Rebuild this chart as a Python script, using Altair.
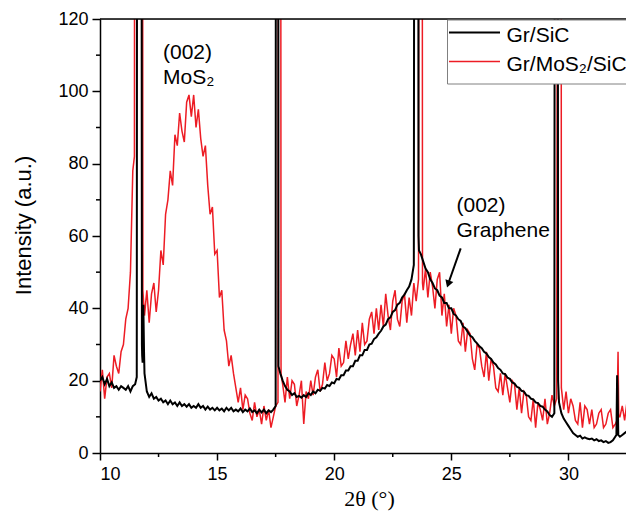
import altair as alt
import pandas as pd

# ---------------- data ----------------
X_START = 10.0
X_STEP = 0.1

# Gr/SiC intensity sampled every 0.1 deg from 10.0 to 32.8 (400 = off-scale peak)
gr_sic_y = [
    20, 21, 19, 20.5, 18.5, 19.5, 18, 18.5, 17.5, 18.5,
    18, 17.5, 18.5, 17, 18.5, 19, 400, 400, 27, 22,
    17, 15.5, 16.5, 15, 15.5, 14.5, 15, 14, 14.5, 13.5,
    14.5, 13.5, 14, 13, 14, 13, 13.5, 12.8, 13.5, 12.5,
    13, 12.5, 13.5, 12.5, 13, 12, 12.8, 12, 12.5, 11.8,
    12.5, 11.8, 12.3, 11.5, 12.5, 11.8, 12.5, 11.5, 12, 11.5,
    12.3, 11.3, 12, 11.5, 12.3, 11.3, 11.8, 11, 12, 11.2,
    12, 11, 11.8, 11.3, 12, 13, 400, 22, 20, 18.5,
    17.5, 17, 16, 16.5, 15.5, 15.8, 15.3, 16, 15.5, 16.5,
    16, 17, 16.5, 17.5, 17.2, 18, 17.8, 18.8, 18.5, 19.5,
    19.3, 20.5, 20.3, 21.5, 21.5, 22.8, 22.8, 24, 24, 25.5,
    25.5, 27, 27, 28.5, 28.5, 30, 30.2, 31.5, 32, 33,
    33.8, 35, 35.5, 37, 37.5, 39, 39.5, 41, 41.5, 43,
    43.8, 45, 46, 48, 52, 400, 60, 55, 53, 51,
    50, 48, 47, 45.5, 45, 43.5, 43, 41.5, 41.5, 40,
    40, 38.5, 38, 37, 36.5, 35, 34.5, 33.5, 32.5, 32,
    31, 30.3, 29.5, 29, 28, 27.5, 26.5, 26, 25, 24.5,
    23.5, 23, 22, 21.8, 20.8, 20.5, 19.5, 19.2, 18.3, 18,
    17.2, 17, 16, 15.8, 15, 14.8, 14, 13.8, 13, 12.8,
    12, 11.5, 10.5, 10, 11, 400, 14, 11, 9.5, 8.5,
    7.5, 6.5, 5.5, 5, 4.5, 4.8, 4, 4.3, 4, 3.8,
    4, 3.5, 3.8, 3.3, 3.5, 3, 3.3, 2.8, 3, 3.5,
    4.5, 18, 4.5, 5, 5.5, 6, 6.5, 6.8, 7,
]
# extra points around the sharp peaks
gr_sic_peak_x = [11.57, 11.75, 11.79, 11.82, 11.85, 11.88,
                 17.52, 17.58, 17.62,
                 23.45, 23.58, 23.62,
                 29.44, 29.53, 29.56,
                 32.05, 32.08, 32.13]
gr_sic_peak_y = [21, 400, 30, 25, 41, 28,
                 400, 400, 24,
                 400, 400, 56,
                 400, 400, 20,
                 5, 21.5, 5]

# Gr/MoS2/SiC intensity sampled every 0.1 deg from 10.0 to 32.8
gr_mos2_y = [
    17, 23, 15, 21, 22, 18, 27, 24, 22, 28,
    30, 37, 40, 50, 78, 400, 400, 400, 400, 38,
    45, 36, 44, 47, 39, 45, 56, 52, 66, 70,
    78, 74, 88, 85, 94, 89, 86, 97, 99, 93,
    99, 90, 95, 87, 82, 85, 74, 66, 68, 55,
    56, 43, 45, 34, 31, 24, 27, 22, 18, 14,
    18, 12, 16, 15, 11, 9, 14, 10, 12, 8,
    13, 9, 12, 7, 10, 13, 14, 400, 19, 14,
    21, 15, 20, 19, 13, 16, 20, 8, 17, 15,
    20, 16, 21, 23, 17, 19, 25, 20, 22, 27,
    26, 21, 29, 24, 25, 31, 26, 30, 33, 27,
    34, 28, 36, 30, 31, 37, 39, 33, 40, 34,
    41, 35, 44, 38, 34, 42, 45, 37, 35, 42,
    44, 36, 43, 38, 47, 42, 48, 400, 45, 51,
    43, 50, 46, 40, 48, 50, 38, 44, 35, 41,
    33, 40, 38, 31, 30, 36, 28, 34, 33, 26,
    23, 30, 29, 24, 21, 28, 20, 26, 24, 18,
    17, 22, 16, 22, 18, 14, 20, 19, 12, 18,
    11, 17, 16, 10, 9, 15, 7, 14, 12, 9,
    15, 8, 11, 16, 13, 15, 400, 18, 12, 17,
    11, 15, 13, 9, 8, 14, 7, 13, 12, 8,
    12, 7, 8, 11, 12, 7, 8, 11, 12, 7,
    8, 20, 10, 13, 9, 14, 11, 15, 12,
]
gr_mos2_peak_x = [11.47, 11.83, 17.64, 17.73, 23.63, 23.74, 23.77,
                  29.58, 29.68, 32.08, 32.12, 32.15]
gr_mos2_peak_y = [82, 45, 400, 22, 400, 400, 47,
                  400, 400, 9, 28, 10]

x_ticks = [10, 15, 20, 25, 30]
x_minor = [12.5, 17.5, 22.5, 27.5, 32.5]
y_ticks = [0, 20, 40, 60, 80, 100, 120]
y_minor = [10, 30, 50, 70, 90, 110]

series_names = ["Gr/SiC", "Gr/MoS\u2082/SiC"]
series_colors = ["#000000", "#ed1c24"]

W, H = 526, 434
X_MAX = 10 + W / 23.42
FONT = "Liberation Sans"


def build(grid_y, px, py, name):
    xs = [round(X_START + i * X_STEP, 2) for i in range(len(grid_y))]
    df = pd.DataFrame({"x": xs + px, "y": grid_y + py})
    df = df.sort_values("x").reset_index(drop=True)
    df["series"] = name
    return df


df_black = build(gr_sic_y, gr_sic_peak_x, gr_sic_peak_y, series_names[0])
df_red = build(gr_mos2_y, gr_mos2_peak_x, gr_mos2_peak_y, series_names[1])

xscale = alt.Scale(domain=[10, X_MAX], nice=False, zero=False)
yscale = alt.Scale(domain=[0, 120], nice=False, zero=False)

x_axis = alt.Axis(values=x_ticks, format="d", grid=False,
                  labelFont=FONT, labelFontSize=18, labelColor="black", labelPadding=5,
                  tickSize=7, tickWidth=1.5, tickColor="black",
                  domainColor="black", domainWidth=1.5,
                  title="2\u03b8 (\u00b0)", titleFont="Liberation Serif", titleFontSize=22,
                  titleFontWeight="normal", titleColor="black",
                  titleX=269, titleY=52, titleBaseline="alphabetic", titleAlign="center")
y_axis = alt.Axis(values=y_ticks, format="d", grid=False,
                  labelFont=FONT, labelFontSize=18, labelColor="black", labelPadding=4,
                  tickSize=8, tickWidth=1.5, tickColor="black",
                  domainColor="black", domainWidth=1.5,
                  title="Intensity (a.u.)", titleFont=FONT, titleFontSize=22,
                  titleFontWeight="normal", titleColor="black",
                  titleX=-77, titleY=206, titleAngle=270,
                  titleBaseline="middle", titleAlign="center")

red = alt.Chart(df_red).mark_line(color=series_colors[1], strokeWidth=1.5, clip=True).encode(
    x=alt.X("x:Q", scale=xscale, axis=x_axis),
    y=alt.Y("y:Q", scale=yscale, axis=y_axis),
)
black = alt.Chart(df_black).mark_line(color=series_colors[0], strokeWidth=2, clip=True).encode(
    x=alt.X("x:Q", scale=xscale, axis=x_axis),
    y=alt.Y("y:Q", scale=yscale, axis=y_axis),
)

xm = alt.Chart(pd.DataFrame({"x": x_minor})).mark_rule(color="black", strokeWidth=1.5).encode(
    x=alt.X("x:Q", scale=xscale, axis=x_axis), y=alt.value(H), y2=alt.value(H + 4))
ym = alt.Chart(pd.DataFrame({"y": y_minor})).mark_rule(color="black", strokeWidth=1.5).encode(
    y=alt.Y("y:Q", scale=yscale, axis=y_axis), x=alt.value(-4), x2=alt.value(0))

one = pd.DataFrame({"k": [0]})
top_border = alt.Chart(one).mark_rule(color="black", strokeWidth=1.5).encode(
    x=alt.value(0), x2=alt.value(W), y=alt.value(0))

legend_box = alt.Chart(one).mark_rect(fill="white", stroke="#808080", strokeWidth=1).encode(
    x=alt.value(347.5), x2=alt.value(W + 2), y=alt.value(1), y2=alt.value(65))
leg_black = alt.Chart(one).mark_rule(color=series_colors[0], strokeWidth=2).encode(
    x=alt.value(349), x2=alt.value(400), y=alt.value(13.5))
leg_red = alt.Chart(one).mark_rule(color=series_colors[1], strokeWidth=1.5).encode(
    x=alt.value(349), x2=alt.value(400), y=alt.value(42.5))


def label(txt, px, py, size=21):
    return alt.Chart(pd.DataFrame({"t": [txt]})).mark_text(
        align="left", baseline="alphabetic", font=FONT, fontSize=size, color="black"
    ).encode(text="t:N", x=alt.value(px), y=alt.value(py))


leg_t1 = label(series_names[0], 406.5, 22.5)
leg_t2 = label(series_names[1], 406.5, 52)
ann1 = label("(002)", 63, 39.5)
ann2 = label("MoS\u2082", 63, 64.5)
ann3 = label("(002)", 356.5, 192.5)
ann4 = label("Graphene", 356.5, 217.5)

arrow_line = alt.Chart(one).mark_rule(color="black", strokeWidth=2).encode(
    x=alt.value(360.7), y=alt.value(229.3), x2=alt.value(348.3), y2=alt.value(264.5))
arrow_head = alt.Chart(one).mark_point(shape="triangle-up", angle=199, size=70,
                                       filled=True, color="black", opacity=1).encode(
    x=alt.value(348.2), y=alt.value(265))

chart = alt.layer(
    red, black, xm, ym, top_border, legend_box, leg_black, leg_red,
    leg_t1, leg_t2, ann1, ann2, ann3, ann4, arrow_line, arrow_head
).properties(
    width=W, height=H,
    autosize=alt.AutoSizeParams(type="none"),
    padding={"left": 92, "top": 11, "right": 0, "bottom": 58},
).configure_view(stroke=None).configure(background="white")

chart.save("out.html", embed_options={"renderer": "svg", "actions": False})
